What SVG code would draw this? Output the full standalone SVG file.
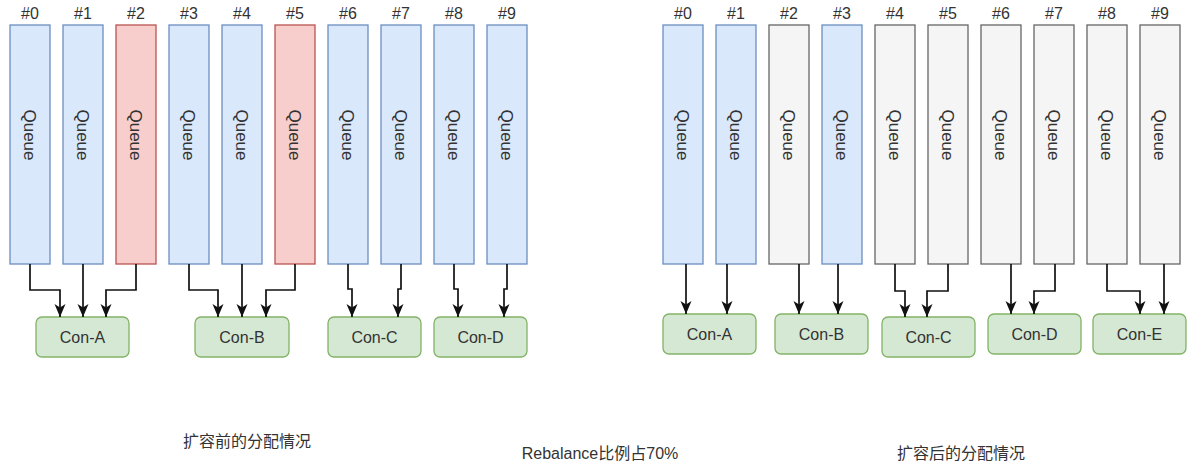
<svg xmlns="http://www.w3.org/2000/svg" width="1187" height="470" viewBox="0 0 1187 470">
<style>
text{font-family:"Liberation Sans",Arial,"Noto Sans CJK SC",sans-serif;fill:#333333;}
.lbl{font-size:16px;text-anchor:middle;}
.q{font-size:17px;text-anchor:middle;}
.blue{fill:#dae8fc;stroke:#6c8ebf;stroke-width:1.3;}
.red{fill:#f8cecc;stroke:#b85450;stroke-width:1.3;}
.gray{fill:#f5f5f5;stroke:#666666;stroke-width:1.3;}
.con{fill:#d5e8d4;stroke:#82b366;stroke-width:1.3;}
.cap{font-size:16px;text-anchor:middle;}
#connectors path{fill:none;stroke:#111111;stroke-width:1.7;marker-end:url(#arr);}
</style>
<defs>
<marker id="arr" markerUnits="userSpaceOnUse" markerWidth="14" markerHeight="14" viewBox="0 0 14 14" refX="13" refY="7" orient="auto">
<path d="M0,1.5 L13,7 L0,12.5 L3.5,7 Z" fill="#111111"/>
</marker>
</defs>
<rect width="1187" height="470" fill="#ffffff"/>

<!-- Left queues -->
<g id="L-q0"><text class="lbl" x="30" y="19">#0</text><rect class="blue" x="10" y="25" width="40" height="239"/><text class="q" transform="translate(30,135) rotate(90)" y="6">Queue</text></g>
<g id="L-q1"><text class="lbl" x="83" y="19">#1</text><rect class="blue" x="63" y="25" width="40" height="239"/><text class="q" transform="translate(83,135) rotate(90)" y="6">Queue</text></g>
<g id="L-q2"><text class="lbl" x="136" y="19">#2</text><rect class="red" x="116" y="25" width="40" height="239"/><text class="q" transform="translate(136,135) rotate(90)" y="6">Queue</text></g>
<g id="L-q3"><text class="lbl" x="189" y="19">#3</text><rect class="blue" x="169" y="25" width="40" height="239"/><text class="q" transform="translate(189,135) rotate(90)" y="6">Queue</text></g>
<g id="L-q4"><text class="lbl" x="242" y="19">#4</text><rect class="blue" x="222" y="25" width="40" height="239"/><text class="q" transform="translate(242,135) rotate(90)" y="6">Queue</text></g>
<g id="L-q5"><text class="lbl" x="295" y="19">#5</text><rect class="red" x="275" y="25" width="40" height="239"/><text class="q" transform="translate(295,135) rotate(90)" y="6">Queue</text></g>
<g id="L-q6"><text class="lbl" x="348" y="19">#6</text><rect class="blue" x="328" y="25" width="40" height="239"/><text class="q" transform="translate(348,135) rotate(90)" y="6">Queue</text></g>
<g id="L-q7"><text class="lbl" x="401" y="19">#7</text><rect class="blue" x="381" y="25" width="40" height="239"/><text class="q" transform="translate(401,135) rotate(90)" y="6">Queue</text></g>
<g id="L-q8"><text class="lbl" x="454" y="19">#8</text><rect class="blue" x="434" y="25" width="40" height="239"/><text class="q" transform="translate(454,135) rotate(90)" y="6">Queue</text></g>
<g id="L-q9"><text class="lbl" x="507" y="19">#9</text><rect class="blue" x="487" y="25" width="40" height="239"/><text class="q" transform="translate(507,135) rotate(90)" y="6">Queue</text></g>

<!-- Left consumers -->
<g id="L-conA"><rect class="con" x="36" y="317" width="93" height="40" rx="6"/><text class="lbl" x="82.5" y="343">Con-A</text></g>
<g id="L-conB"><rect class="con" x="195" y="317" width="94" height="40" rx="6"/><text class="lbl" x="242" y="343">Con-B</text></g>
<g id="L-conC"><rect class="con" x="328" y="317" width="93" height="40" rx="6"/><text class="lbl" x="374.5" y="343">Con-C</text></g>
<g id="L-conD"><rect class="con" x="434" y="317" width="93" height="40" rx="6"/><text class="lbl" x="480.5" y="343">Con-D</text></g>

<!-- Right queues -->
<g id="R-q0"><text class="lbl" x="683" y="19">#0</text><rect class="blue" x="663" y="25" width="40" height="239"/><text class="q" transform="translate(683,135) rotate(90)" y="6">Queue</text></g>
<g id="R-q1"><text class="lbl" x="736" y="19">#1</text><rect class="blue" x="716" y="25" width="40" height="239"/><text class="q" transform="translate(736,135) rotate(90)" y="6">Queue</text></g>
<g id="R-q2"><text class="lbl" x="789" y="19">#2</text><rect class="gray" x="769" y="25" width="40" height="239"/><text class="q" transform="translate(789,135) rotate(90)" y="6">Queue</text></g>
<g id="R-q3"><text class="lbl" x="842" y="19">#3</text><rect class="blue" x="822" y="25" width="40" height="239"/><text class="q" transform="translate(842,135) rotate(90)" y="6">Queue</text></g>
<g id="R-q4"><text class="lbl" x="895" y="19">#4</text><rect class="gray" x="875" y="25" width="40" height="239"/><text class="q" transform="translate(895,135) rotate(90)" y="6">Queue</text></g>
<g id="R-q5"><text class="lbl" x="948" y="19">#5</text><rect class="gray" x="928" y="25" width="40" height="239"/><text class="q" transform="translate(948,135) rotate(90)" y="6">Queue</text></g>
<g id="R-q6"><text class="lbl" x="1001" y="19">#6</text><rect class="gray" x="981" y="25" width="40" height="239"/><text class="q" transform="translate(1001,135) rotate(90)" y="6">Queue</text></g>
<g id="R-q7"><text class="lbl" x="1054" y="19">#7</text><rect class="gray" x="1034" y="25" width="40" height="239"/><text class="q" transform="translate(1054,135) rotate(90)" y="6">Queue</text></g>
<g id="R-q8"><text class="lbl" x="1107" y="19">#8</text><rect class="gray" x="1087" y="25" width="40" height="239"/><text class="q" transform="translate(1107,135) rotate(90)" y="6">Queue</text></g>
<g id="R-q9"><text class="lbl" x="1160" y="19">#9</text><rect class="gray" x="1140" y="25" width="40" height="239"/><text class="q" transform="translate(1160,135) rotate(90)" y="6">Queue</text></g>

<!-- Right consumers -->
<g id="R-conA"><rect class="con" x="663" y="314" width="93" height="40" rx="6"/><text class="lbl" x="709.5" y="340">Con-A</text></g>
<g id="R-conB"><rect class="con" x="775" y="314" width="93" height="40" rx="6"/><text class="lbl" x="821.5" y="340">Con-B</text></g>
<g id="R-conC"><rect class="con" x="882" y="317" width="93" height="40" rx="6"/><text class="lbl" x="928.5" y="343">Con-C</text></g>
<g id="R-conD"><rect class="con" x="988" y="314" width="93" height="40" rx="6"/><text class="lbl" x="1034.5" y="340">Con-D</text></g>
<g id="R-conE"><rect class="con" x="1093" y="314" width="93" height="40" rx="6"/><text class="lbl" x="1139.5" y="340">Con-E</text></g>

<g id="connectors">
<path d="M30 264 V290 H60 V317"/>
<path d="M83 264 V317"/>
<path d="M136 264 V290 H106 V317"/>
<path d="M189 264 V290 H218 V317"/>
<path d="M242 264 V317"/>
<path d="M295 264 V290 H266 V317"/>
<path d="M348 264 V289 H352 V317"/>
<path d="M401 264 V289 H398 V317"/>
<path d="M454 264 V289 H458 V317"/>
<path d="M507 264 V289 H504 V317"/>
<path d="M686 264 V314"/>
<path d="M727 264 V314"/>
<path d="M799 264 V314"/>
<path d="M838 264 V314"/>
<path d="M895 264 V291 H905 V317"/>
<path d="M948 264 V291 H927 V317"/>
<path d="M1011 264 V314"/>
<path d="M1055 264 V291 H1034 V314"/>
<path d="M1107 264 V291 H1140 V314"/>
<path d="M1164 264 V314"/>
</g>

<g id="captions">
<text class="cap" x="247" y="447">扩容前的分配情况</text>
<text class="cap" x="600" y="459">Rebalance比例占70%</text>
<text class="cap" x="961" y="459">扩容后的分配情况</text>
</g>
</svg>
